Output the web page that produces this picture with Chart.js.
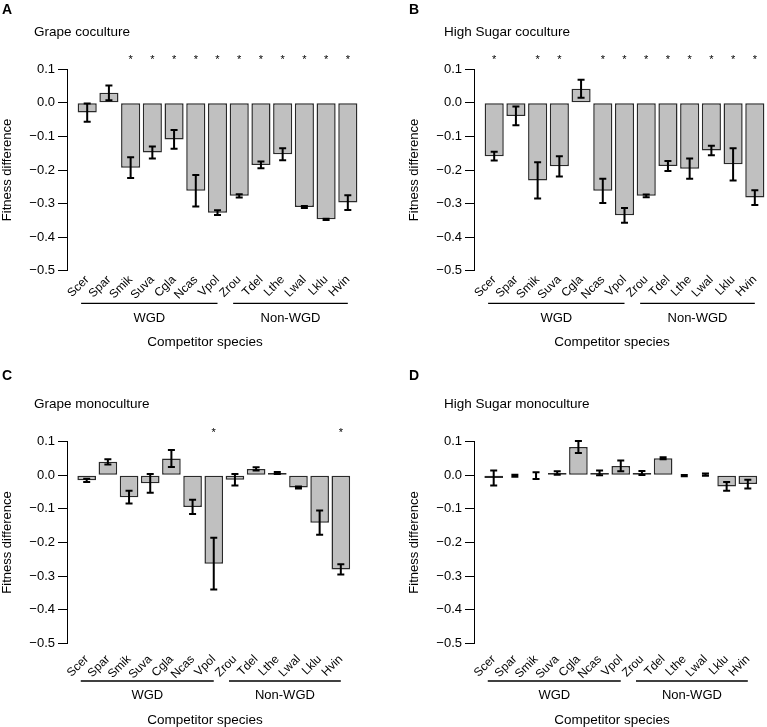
<!DOCTYPE html>
<html>
<head>
<meta charset="utf-8">
<script src="https://cdn.jsdelivr.net/npm/chart.js@4.4.1/dist/chart.umd.min.js"></script>
<style>
  html, body { margin: 0; padding: 0; background: #fff; }
  body { width: 767px; height: 727px; position: relative; overflow: hidden; }
  canvas { position: absolute; }
</style>
</head>
<body>
<canvas id="panelA" width="360" height="365" style="left:0;top:0"></canvas>
<canvas id="panelB" width="360" height="365" style="left:407px;top:0"></canvas>
<canvas id="panelC" width="360" height="362" style="left:0;top:365px"></canvas>
<canvas id="panelD" width="360" height="362" style="left:407px;top:365px"></canvas>
<script>
// competitor species, in plotting order
const species = ['Scer', 'Spar', 'Smik', 'Suva', 'Cgla', 'Ncas', 'Vpol',
                 'Zrou', 'Tdel', 'Lthe', 'Lwal', 'Lklu', 'Hvin'];
const yTicks = [0.1, 0.0, -0.1, -0.2, -0.3, -0.4, -0.5];
const groupNames = ['WGD', 'Non-WGD'];
const groupFirst = [0, 7];
const groupLast = [6, 12];

// A - grape coculture
const grapeCoVals = [-0.029, 0.030, -0.193, -0.148, -0.109, -0.262, -0.327, -0.277, -0.185, -0.153, -0.310, -0.347, -0.297];
const grapeCoErr  = [0.027, 0.022, 0.031, 0.018, 0.028, 0.047, 0.007, 0.005, 0.010, 0.018, 0.003, 0.002, 0.022];
const grapeCoSig  = [0, 0, 1, 1, 1, 1, 1, 1, 1, 1, 1, 1, 1];

// B - high sugar coculture
const sugarCoVals = [-0.159, -0.039, -0.231, -0.189, 0.042, -0.262, -0.335, -0.277, -0.188, -0.196, -0.142, -0.183, -0.282];
const sugarCoErr  = [0.013, 0.028, 0.054, 0.030, 0.027, 0.036, 0.022, 0.004, 0.015, 0.030, 0.014, 0.048, 0.022];
const sugarCoSig  = [1, 0, 1, 1, 0, 1, 1, 1, 1, 1, 1, 1, 1];

// C - grape monoculture
const grapeMonoVals = [-0.015, 0.040, -0.065, -0.024, 0.050, -0.094, -0.263, -0.013, 0.019, 0.007, -0.036, -0.141, -0.280];
const grapeMonoErr  = [0.005, 0.008, 0.019, 0.028, 0.025, 0.021, 0.077, 0.017, 0.005, 0.003, 0.003, 0.036, 0.015];
const grapeMonoSig  = [0, 0, 0, 0, 0, 0, 1, 0, 0, 0, 0, 0, 1];

// D - high sugar monoculture
const sugarMonoVals = [-0.008, -0.001, -0.001, 0.007, 0.084, 0.007, 0.028, 0.007, 0.051, -0.001, 0.002, -0.033, -0.026];
const sugarMonoErr  = [0.022, 0.003, 0.010, 0.005, 0.018, 0.007, 0.016, 0.006, 0.003, 0.002, 0.003, 0.013, 0.013];
const sugarMonoSig  = [0, 0, 0, 0, 0, 0, 0, 0, 0, 0, 0, 0, 0];

const STAR_LEVEL = 0.136;
const FONT = '"Liberation Sans", Arial, Helvetica, sans-serif';
Chart.defaults.font.family = FONT;
Chart.defaults.color = '#000';

// layout of the two rows (pixels inside each canvas)
const rows = [
  { top: 69.3, bottom: 270.7, letterY: 14, subY: 36, tickPad: 2, bracketDy: 32.6, groupDy: 51, titleDy: 75 },
  { top: 76.7, bottom: 278.3, letterY: 15, subY: 43.3, tickPad: 9, bracketDy: 37.7, groupDy: 55.7, titleDy: 80.7 }
];

function fmtTick(v) {
  const r = Math.round(v * 10) / 10;
  if (r === 0) return '0.0';
  return (r < 0 ? '\u2212' : '') + Math.abs(r).toFixed(1);
}

function makeDeco(letter, subtitle, vals, errs, sig, row, subX) {
  return {
    id: 'deco' + letter,
    afterDatasetsDraw(chart) {
      const ctx = chart.ctx, xs = chart.scales.x, ys = chart.scales.y;
      ctx.save();
      ctx.strokeStyle = '#000';
      ctx.lineWidth = 2;
      vals.forEach((v, i) => {
        const px = xs.getPixelForValue(i);
        const hi = ys.getPixelForValue(v + errs[i]);
        const lo = ys.getPixelForValue(v - errs[i]);
        ctx.beginPath();
        ctx.moveTo(px, hi); ctx.lineTo(px, lo);
        ctx.moveTo(px - 3.5, hi); ctx.lineTo(px + 3.5, hi);
        ctx.moveTo(px - 3.5, lo); ctx.lineTo(px + 3.5, lo);
        ctx.stroke();
      });
      ctx.restore();
    },
    afterDraw(chart) {
      const ctx = chart.ctx, xs = chart.scales.x, ys = chart.scales.y;
      const area = chart.chartArea;
      ctx.save();
      ctx.fillStyle = '#000';
      ctx.strokeStyle = '#000';
      ctx.textBaseline = 'alphabetic';

      ctx.font = 'bold 14px ' + FONT;
      ctx.textAlign = 'left';
      ctx.fillText(letter, 2, row.letterY);
      ctx.font = '13.5px ' + FONT;
      ctx.fillText(subtitle, subX, row.subY);

      // significance stars
      ctx.font = '11px ' + FONT;
      ctx.textAlign = 'center';
      const sy = ys.getPixelForValue(STAR_LEVEL) + 6;
      sig.forEach((s, i) => {
        if (s) ctx.fillText('*', xs.getPixelForValue(i), sy);
      });

      // group brackets
      const by = area.bottom + row.bracketDy;
      ctx.lineWidth = 1.3;
      ctx.font = '13px ' + FONT;
      groupNames.forEach((g, k) => {
        const x0 = xs.getPixelForValue(groupFirst[k] - 0.28);
        const x1 = xs.getPixelForValue(groupLast[k] + 0.0);
        ctx.beginPath();
        ctx.moveTo(x0, by); ctx.lineTo(x1, by);
        ctx.stroke();
        ctx.fillText(g, (x0 + x1) / 2, area.bottom + row.groupDy);
      });

      ctx.font = '13.5px ' + FONT;
      ctx.fillText('Competitor species', 205, area.bottom + row.titleDy);
      ctx.restore();
    }
  };
}

function makePanel(id, letter, subtitle, vals, errs, sig, row, subX) {
  const canvas = document.getElementById(id);
  const H = canvas.height;
  const xHeight = 40;
  return new Chart(canvas, {
    type: 'bar',
    data: {
      datasets: [{
        data: vals.map((v, i) => ({ x: i, y: v })),
        backgroundColor: '#c0c0c0',
        borderColor: '#2a2a2a',
        borderWidth: 1.5,
        borderSkipped: false,
        barPercentage: 0.88,
        categoryPercentage: 1
      }]
    },
    options: {
      responsive: false,
      animation: false,
      devicePixelRatio: 1,
      layout: { padding: { top: row.top, bottom: H - row.bottom - xHeight, left: 0, right: 0 } },
      plugins: { legend: { display: false }, tooltip: { enabled: false } },
      scales: {
        x: {
          type: 'linear',
          min: -0.93,
          max: 12.48,
          offset: false,
          grid: { display: false, drawTicks: false, offset: false },
          border: { display: false },
          afterBuildTicks: s => { s.ticks = species.map((_, i) => ({ value: i })); },
          afterFit: s => { s.height = xHeight; },
          ticks: {
            autoSkip: false,
            minRotation: 45,
            maxRotation: 45,
            padding: row.tickPad,
            font: { size: 12 },
            callback: v => species[v]
          }
        },
        y: {
          min: -0.5,
          max: 0.1,
          afterBuildTicks: s => { s.ticks = yTicks.map(v => ({ value: v })); },
          afterFit: s => { s.width = 67; },
          grid: { drawOnChartArea: false, drawTicks: true, tickLength: 9, color: '#000', lineWidth: 1 },
          border: { display: true, color: '#000', width: 1 },
          ticks: { padding: 3, font: { size: 13 }, callback: v => fmtTick(v) },
          title: { display: true, text: 'Fitness difference', font: { size: 13 }, padding: 0 }
        }
      }
    },
    plugins: [makeDeco(letter, subtitle, vals, errs, sig, row, subX)]
  });
}

makePanel('panelA', 'A', 'Grape coculture', grapeCoVals, grapeCoErr, grapeCoSig, rows[0], 34);
makePanel('panelB', 'B', 'High Sugar coculture', sugarCoVals, sugarCoErr, sugarCoSig, rows[0], 37);
makePanel('panelC', 'C', 'Grape monoculture', grapeMonoVals, grapeMonoErr, grapeMonoSig, rows[1], 34);
makePanel('panelD', 'D', 'High Sugar monoculture', sugarMonoVals, sugarMonoErr, sugarMonoSig, rows[1], 37);
</script>
</body>
</html>
